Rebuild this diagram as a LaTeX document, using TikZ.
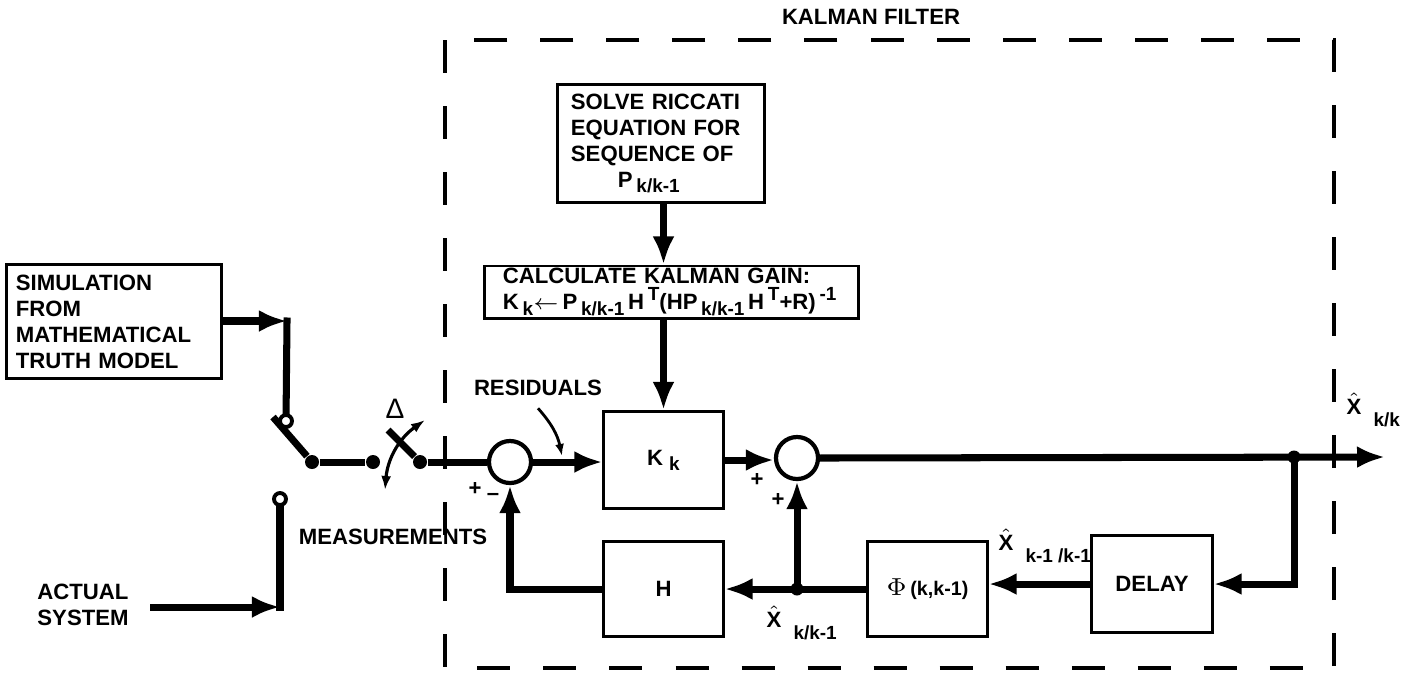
\documentclass[tikz,border=0pt]{standalone}
\usepackage{fontspec}
\setmainfont{Liberation Sans}
\usepackage{tikz}
\usetikzlibrary{arrows.meta}

\newcommand{\lowsub}[1]{\raisebox{-0.45ex}{\fontsize{5.4pt}{6pt}\selectfont #1}}
\newcommand{\upsup}[1]{\raisebox{0.8ex}{\fontsize{5.4pt}{6pt}\selectfont #1}}
\newcommand{\xest}[1]{\ensuremath{\hat{\hbox{X}}}\hspace{0.12cm}\raisebox{-1.1ex}{\fontsize{5.4pt}{6pt}\selectfont #1}}

\begin{document}
\begin{tikzpicture}[
    x=0.01cm, y=-0.01cm,
    every node/.style={font=\fontsize{6.3pt}{7.4pt}\selectfont\bfseries},
    block/.style={draw, line width=0.85pt, inner sep=0pt, align=left},
    sum node/.style={circle, draw, line width=1.2pt, minimum size=0.42cm, inner sep=0pt},
    contact/.style={circle, draw, line width=1.1pt, fill=white, minimum size=0.12cm, inner sep=0pt},
    junction/.style={circle, fill, minimum size=0.13cm, inner sep=0pt},
    wire/.style={line width=2pt},
    signal/.style={line width=2pt, -{Latex[length=0.28cm, width=0.22cm]}},
    pointer/.style={line width=0.8pt, -{Latex[length=0.12cm, width=0.09cm]}},
    frame/.style={line width=1.1pt, dash pattern=on 0.33cm off 0.33cm},
]
\useasboundingbox (0,0) rectangle (1413,678);

% === Kalman filter boundary ===
\draw[frame] (445,40) rectangle (1334,668);
\node (kftitle) at (871,17) {KALMAN FILTER};

% === Blocks ===
\node[block, text width=1.80cm, inner xsep=0.13cm, minimum height=1.17cm] (riccati) at (661,143.5)
    {SOLVE RICCATI\\EQUATION FOR\\SEQUENCE OF\\\hspace*{0.47cm}P\,\lowsub{k/k-1}};
\node[block, text width=3.37cm, inner xsep=0.18cm, minimum height=0.52cm] (gain) at (671.5,292)
    {CALCULATE KALMAN GAIN:\\K\,\lowsub{k}$\leftarrow$\,P\,\lowsub{k/k-1}\,H\,\upsup{T}(HP\,\lowsub{k/k-1}\,H\,\upsup{T}+R)\,\upsup{-1}};
\node[block, minimum width=1.19cm, minimum height=0.97cm] (kgain) at (663.5,460) {K\hspace{0.06cm}\lowsub{k}};
\node[block, minimum width=1.19cm, minimum height=0.95cm] (hbox) at (663.5,589) {H};
\node[block, minimum width=1.19cm, minimum height=0.95cm] (phi) at (927.5,589)
    {{\fontsize{7.5pt}{8pt}\selectfont$\Phi$}\,{\fontsize{5.6pt}{6pt}\selectfont(k,k-1)}};
\node[block, minimum width=1.20cm, minimum height=0.96cm] (delay) at (1152,584) {DELAY};
\node[block, text width=1.96cm, inner xsep=0.09cm, minimum height=1.13cm] (sim) at (114,321.5)
    {SIMULATION\\FROM\\MATHEMATICAL\\TRUTH MODEL};

% === Summing junctions and branch points ===
\node[sum node] (sum1) at (510,462) {};
\node[sum node] (sum2) at (797,458) {};
\node[junction] (jout) at (1294,457) {};
\node[junction] (jmid) at (797,589) {};
\node[junction, minimum size=0.14cm] (pivot) at (312,462) {};
\node[junction, minimum size=0.14cm] (swout) at (373,462) {};
\node[junction, minimum size=0.14cm] (dlin) at (420,462) {};

% === Switch points ===
\coordinate (swtop) at (287,321);
\coordinate (simc) at (286,421);
\coordinate (actc) at (280,499);
\coordinate (swbot) at (280,607);
\coordinate (blade) at (273,417);
\coordinate (dlblade) at (388,430);
\coordinate (dlarA) at (385,490);
\coordinate (dlarB) at (425,420);
\coordinate (resid) at (562,456);
\coordinate (xout) at (1385,457);

% === Labels ===
\node (residlbl) at (538,388) {RESIDUALS};
\node (meas) at (393,537) {MEASUREMENTS};
\node[align=center, outer xsep=0.1cm] (actual) at (83,605) {ACTUAL\\SYSTEM};
\node[font=\fontsize{8pt}{8pt}\selectfont] (delta) at (395,409) {Δ};
\node (plusA) at (475,489) {+};
\node (minusA) at (493,497) {--};
\node (plusB) at (757,480) {+};
\node (plusC) at (778,500) {+};
\node[anchor=base west, inner sep=0pt] (xkk1) at (766,627) {\xest{k/k-1}};
\node[anchor=base west, inner sep=0pt] (xk1k1) at (998,550) {\xest{k-1 /k-1}};
\node[anchor=base west, inner sep=0pt] (xkk) at (1346,414) {\xest{k/k}};

% === Measurement switch ===
\draw[signal] (sim.east |- swtop) -- (swtop);
\draw[wire, line cap=rect] (swtop) -- (simc);
\draw[signal] (actual.east |- swbot) -- (swbot);
\draw[wire, line cap=rect] (swbot) -- (actc);
\draw[wire] (pivot) -- (blade);
\draw[wire] (pivot) -- (swout);
\draw[wire] (dlin) -- (dlblade);
\draw[line width=0.9pt, {Latex[length=0.14cm, width=0.1cm]}-{Latex[length=0.14cm, width=0.1cm]}]
    (dlarA) to[bend left=25] (dlarB);
\draw[wire] (dlin) -- (sum1.west);

% === Forward path ===
\draw[signal] (sum1.east) -- (sum1.east -| kgain.west);
\draw[pointer] (residlbl.south) to[bend left=15] (resid);
\draw[signal] (riccati.south -| kgain) -- (gain.north -| kgain);
\draw[signal] (gain.south -| kgain) -- (kgain.north);
\draw[signal] (kgain.east) -- (kgain.east -| sum2.west);
\draw[signal] (sum2.east) -- (xout);

% === Feedback path ===
\draw[signal] (jout.center) |- (delay.east);
\draw[signal] (delay.west) -- (delay.west -| phi.east);
\draw[signal] (phi.west) -- (hbox.east);
\draw[signal] (jmid.center) -- (sum2.south);
\draw[signal] (hbox.west) -| (sum1.south);

% === Contacts ===
\node[contact] (simcontact) at (simc) {};
\node[contact] (actcontact) at (actc) {};

\end{tikzpicture}
\end{document}
